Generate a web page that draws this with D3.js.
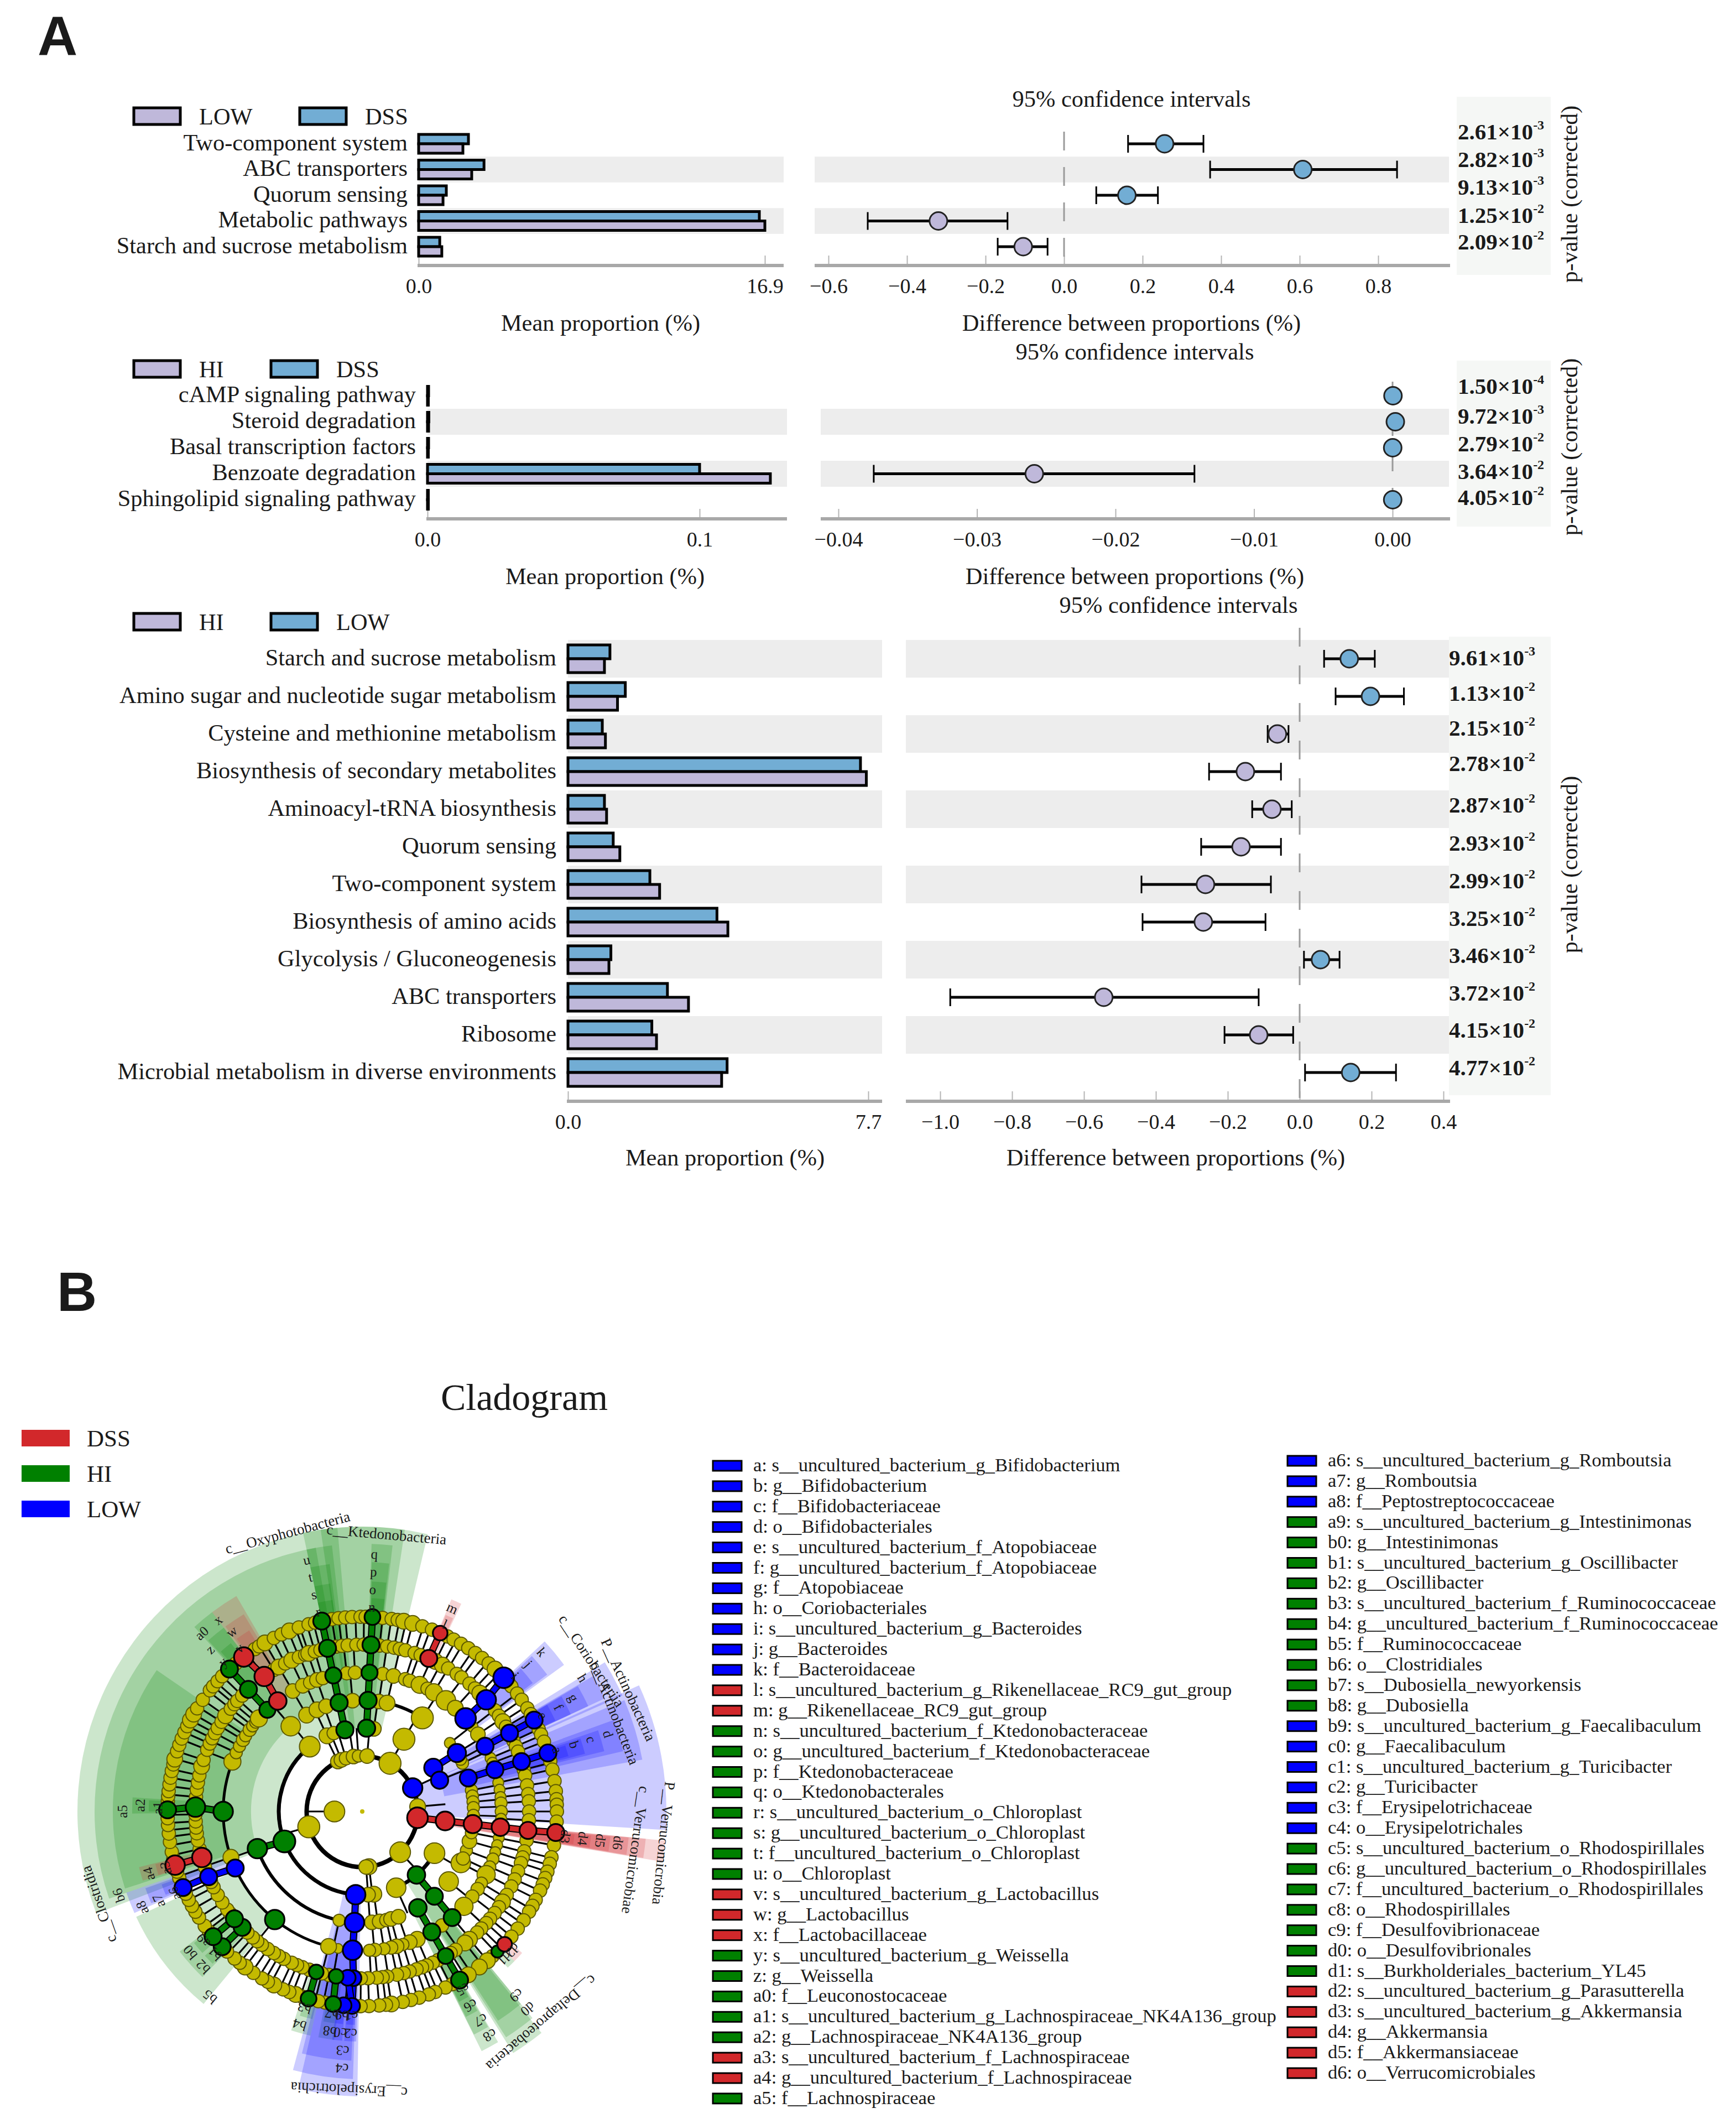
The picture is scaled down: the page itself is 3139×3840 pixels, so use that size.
<!DOCTYPE html>
<html><head><meta charset="utf-8">
<style>html,body{margin:0;padding:0;background:#fff}svg{display:block}text{font-family:"Liberation Serif",serif;fill:#1a1a1a}</style>
<script src="https://cdn.jsdelivr.net/npm/d3@7/dist/d3.min.js"></script>
</head><body><svg id="c" width="3139" height="3840" viewBox="0 0 3139 3840"></svg>
<script>
// ---------- Panel A data ----------
const p1Groups = ["LOW","DSS"];
const p1Names = ["Two-component system","ABC transporters","Quorum sensing","Metabolic pathways","Starch and sucrose metabolism"];
const p1Blue = [2.43,3.19,1.35,16.63,1.03];
const p1Lav = [2.16,2.59,1.19,16.9,1.13];
const p1Diff = [0.256,0.608,0.16,-0.32,-0.104];
const p1Lo = [0.163,0.372,0.082,-0.50,-0.169];
const p1Hi = [0.355,0.848,0.239,-0.144,-0.042];
const p1Mant = ["2.61","2.82","9.13","1.25","2.09"];
const p1Exp = ["-3","-3","-3","-2","-2"];
const p1BarTicks = [0,16.9];
const p1DiffTicks = [-0.6,-0.4,-0.2,0,0.2,0.4,0.6,0.8];

const p2Groups = ["HI","DSS"];
const p2Names = ["cAMP signaling pathway","Steroid degradation","Basal transcription factors","Benzoate degradation","Sphingolipid signaling pathway"];
const p2Blue = [0.0004,0.0005,0.0004,0.1,0.0003];
const p2Lav = [0.0003,0.0004,0.0003,0.126,0.0003];
const p2Diff = [0.00003,0.0002,0.00001,-0.02586,0.00001];
const p2Lo = [0,0.0001,0,-0.03745,0];
const p2Hi = [0.0001,0.0003,0.0001,-0.0143,0.0001];
const p2Mant = ["1.50","9.72","2.79","3.64","4.05"];
const p2Exp = ["-4","-3","-2","-2","-2"];
const p2BarTicks = [0,0.1];
const p2DiffTicks = [-0.04,-0.03,-0.02,-0.01,0];

const p3Groups = ["HI","LOW"];
const p3Names = ["Starch and sucrose metabolism","Amino sugar and nucleotide sugar metabolism","Cysteine and methionine metabolism","Biosynthesis of secondary metabolites","Aminoacyl-tRNA biosynthesis","Quorum sensing","Two-component system","Biosynthesis of amino acids","Glycolysis / Gluconeogenesis","ABC transporters","Ribosome","Microbial metabolism in diverse environments"];
const p3Blue = [1.076,1.47,0.88,7.5,0.935,1.16,2.1,3.82,1.1,2.55,2.15,4.08];
const p3Lav = [0.935,1.27,0.96,7.65,0.99,1.33,2.35,4.1,1.05,3.09,2.27,3.94];
const p3Diff = [0.138,0.197,-0.062,-0.151,-0.077,-0.163,-0.262,-0.268,0.058,-0.545,-0.114,0.142];
const p3Lo = [0.068,0.10,-0.089,-0.252,-0.132,-0.274,-0.44,-0.437,0.012,-0.972,-0.209,0.015];
const p3Hi = [0.209,0.29,-0.031,-0.052,-0.022,-0.052,-0.08,-0.095,0.111,-0.114,-0.018,0.268];
const p3Mant = ["9.61","1.13","2.15","2.78","2.87","2.93","2.99","3.25","3.46","3.72","4.15","4.77"];
const p3Exp = ["-3","-2","-2","-2","-2","-2","-2","-2","-2","-2","-2","-2"];
const p3BarTicks = [0,7.7];
const p3DiffTicks = [-1,-0.8,-0.6,-0.4,-0.2,0,0.2,0.4];

// ---------- Panel B data: angle in degrees clockwise from 12 o'clock, abundance in arbitrary units ----------
const classNames = ["DSS","HI","LOW"];
const ring1 = [[270,72]];
const ring2 = [[334,36],[338,36],[343,30],[351,36],[356,25],[5,36],[30,81],[85,42],[137,72],[173,42],[176,36],[254,81]];
const ring3 = [[120,72],[156,64],[321,72],[30,81],[335,42],[340,30],[8,36],[172,42],[176,36]];
const ring4 = [[320,64],[32.7,81],[330,42],[336,42],[341,36],[355,36],[8.6,36],[12.9,42],[117.6,64],[129,64],[110.5,25],[115,30],[105.5,36],[101,25],[192,25],[175,36],[171,36],[167.5,30],[165,36],[161,36],[52,20],[64.3,25],[62,25],[79,25],[82,25],[85,25],[88,25],[92,25]];
const ring5 = [[250.8,42],[291,49],[295,25],[298,25],[301,30],[303,25],[306,30],[308,25],[310,25],[312,49],[330,36],[334.7,36],[338,30],[341,36],[343.5,30],[353.6,30],[357,30],[8.5,30],[13,36],[18,30],[20,30],[24.4,49],[28,30],[31,49],[37,64],[42,42],[52.5,20],[56.3,36],[67.4,20],[69.5,20],[78,20],[81,20],[84,20],[86.5,25],[90,25],[93,20],[101,20],[104,20],[107,20],[110,25],[113.5,25],[117,56],[121,25],[123.9,30],[127.7,30],[133,56],[145,30],[156.7,42],[160,36],[163,25],[165.7,36],[168,30],[171,25],[174.8,30],[177,25],[190,16],[194,42]];
const ring6 = [275,277.5,280,282.5,285.7,288,291.7,294,296,298,300,302.5,305,308,310,311.5,314,328,330,332.5,335,337.7,340,341.3,343.5,345.5,351,353,355,358,0.5,6,8.6,11,13,15,18.3,20.5,26,28.7,31,34.5,36.5,40,42.5,44.8,52.7,55,57.4,59.5,65,67,69,75.5,77.5,81,84,86.5,90,93,100,103.8,106,108,111,114,116.7,120,122.8,125,127.5,130,132,134.5,136.5,140,142,146,148,153,155,157.3,159,161,163.5,165.6,168,171.4,173,175,178,180.5,191.5,194,198.5,201,203,205,208,210,212,214.5,217,219,221,223.5,232.5,234,237,240,243,245,250.5,257,260,262.5,264.5,266.6,269];
const ring7 = [273,274.5,276,278,280,282,284,285.6,288,290,292,294,296,298,300,302,305,308.5,310,312,314,319.5,326.5,328,330,333,335.5,338,341,344,346,351,353,355,357,359.5,1,6,8.7,10.5,12.3,15,18,21,26,28,30.5,33,35.5,38,40.5,43,49,50,52.7,55,58,60,65,66.7,69,75,77.6,81,84,86.4,88,90,93,100,103.6,105.6,108,110,112,114,117,119,121,124,127,130,138,140,143,147,152.5,154.7,158,160,163,165.5,168,171.4,173,175,178,180.5,191,193,198,200,202,204,207,209,211,214,217,219,221,224,232,234,237,239,241,243,245,250,252,256,258,261,263.5,266,268];
const ring6Large = [26,28.7,44.8,57.4,122.8,140,142,285.7,305,330,335,341.3];
const ring7Large = [285.6,298,330,338,12.3,15,43,140,143,147,171.4,200,207,217,300];
const marked = [ // level, angle, class, abundance
 [2,65,"LOW",64],[2,96.5,"DSS",72],
 [3,58.4,"LOW",56],[3,68,"LOW",50],[3,96.5,"DSS",60],[3,139.5,"HI",52],[3,184.5,"LOW",64],[3,249,"HI",81],[3,348,"HI",50],[3,3,"HI",50],
 [4,58.3,"LOW",56],[4,72.5,"LOW",49],[4,96.5,"DSS",56],[4,139.6,"HI",49],[4,150,"HI",52],[4,184,"LOW",64],[4,250.5,"HI",64],[4,348,"HI",50],[4,3,"HI",50],
 [5,48,"LOW",72],[5,62,"LOW",49],[5,72.5,"LOW",49],[5,96.5,"DSS",52],[5,139.7,"HI",49],[5,150,"HI",49],[5,184,"LOW",64],[5,219,"HI",64],[5,246,"LOW",49],[5,270,"HI",64],[5,317,"HI",44],[5,322.6,"DSS",52],[5,348,"HI",44],[5,3,"HI",44],
 [6,23.5,"DSS",49],[6,48,"LOW",64],[6,62,"LOW",49],[6,72.6,"LOW",49],[6,96.5,"DSS",49],[6,150,"HI",42],[6,183,"LOW",42],[6,185,"LOW",42],[6,189,"HI",36],[6,196,"HI",36],[6,226,"HI",49],[6,230,"HI",49],[6,247,"LOW",49],[6,254,"DSS",64],[6,271.5,"HI",64],[6,317,"HI",49],[6,324,"DSS",64],[6,348,"HI",49],[6,3,"HI",49],
 [7,23.6,"DSS",36],[7,46.6,"LOW",72],[7,62,"LOW",49],[7,72.5,"LOW",49],[7,96.2,"DSS",49],[7,136,"HI",25],[7,133,"DSS",36],[7,150,"HI",49],[7,183,"LOW",42],[7,185.5,"LOW",42],[7,188.6,"HI",42],[7,196,"HI",42],[7,226,"HI",49],[7,230,"HI",49],[7,247,"LOW",49],[7,254,"DSS",64],[7,270.5,"HI",49],[7,317,"HI",49],[7,322.5,"DSS",64],[7,348,"HI",49],[7,3,"HI",42]
];
const arcSpans = [[3,184.5,321],[3,120,156],[4,192,250.5],[4,8.6,32.7],[5,190,291]];
const wedges = [ // level, from, to, class
 [3,249,351.6,"HI"],[4,251,350,"HI"],[5,252,304.5,"HI"],[5,219.5,245,"HI"],[6,269.5,273.5,"HI"],[7,270,273,"HI"],
 [3,348,355,"HI"],[4,348,353.5,"HI"],[5,348,352.5,"HI"],[6,348,352,"HI"],[7,348,352,"HI"],
 [3,351.6,373.3,"HI"],[3,351.6,368.6,"HI"],[4,2,6.5,"HI"],[5,2.2,6.2,"HI"],[6,2.4,6,"HI"],[7,2.5,6,"HI"],
 [2,65.5,93.5,"LOW"],[3,67,79.5,"LOW"],[3,58.4,66,"LOW"],[4,70,77,"LOW"],[5,71,76,"LOW"],[6,71.5,75.5,"LOW"],[7,72,75,"LOW"],
 [4,59.6,65,"LOW"],[5,59.8,65,"LOW"],[6,60,65,"LOW"],[7,60,64.8,"LOW"],
 [5,47,54,"LOW"],[6,47.5,53.5,"LOW"],[7,48,53,"LOW"],
 [2,95.5,99.5,"DSS"],[3,95.5,99.4,"DSS"],[4,95.6,99.3,"DSS"],[5,95.8,99.2,"DSS"],[6,96,99,"DSS"],[7,96.2,98.8,"DSS"],
 [6,22.8,25.5,"DSS"],[7,23,25.2,"DSS"],
 [5,323,329.7,"DSS"],[6,323.5,329,"DSS"],[7,324,328,"DSS"],
 [5,317.7,323,"HI"],[6,318,323,"HI"],[7,318.5,322,"HI"],
 [6,252.5,256,"DSS"],[7,252.7,255.7,"DSS"],
 [5,246,251,"LOW"],[6,246.5,250.5,"LOW"],[7,247,250,"LOW"],
 [6,228,232.5,"HI"],[7,228.5,232,"HI"],[6,224,228,"HI"],[7,224.5,227.5,"HI"],[6,193,198,"HI"],[7,193.5,197,"HI"],
 [6,187,191,"HI"],[7,187.5,190.5,"HI"],
 [3,181,193,"LOW"],[4,182,195,"LOW"],[5,182.5,194,"LOW"],[6,185,187.5,"LOW"],[7,185.2,187.3,"LOW"],[6,181.5,184.5,"LOW"],[7,182,184.3,"LOW"],
 [3,141,148,"HI"],[4,140.5,147.5,"HI"],[5,140.5,147,"HI"],
 [4,149.5,153.5,"HI"],[5,149.7,153.4,"HI"],[6,150,153.2,"HI"],[7,150.2,153,"HI"],
 [7,134.5,137,"HI"],[7,131.5,134.5,"DSS"]
];
const cladeLabels = [ // key, level, angle, class
 ["a",7,72.5,"LOW"],["b",6,72.5,"LOW"],["c",5,72.5,"LOW"],["d",4,72.5,"LOW"],["e",7,62,"LOW"],["f",6,62,"LOW"],["g",5,61.7,"LOW"],["h",4,58.8,"LOW"],
 ["i",7,48.4,"LOW"],["j",6,48.4,"LOW"],["k",5,48.4,"LOW"],["l",7,23.8,"DSS"],["m",6,23.9,"DSS"],
 ["n",7,2.7,"HI"],["o",6,2.7,"HI"],["p",5,2.7,"HI"],["q",4,2.7,"HI"],["r",7,347.5,"HI"],["s",6,347.4,"HI"],["t",5,347.5,"HI"],["u",4,347.5,"HI"],
 ["v",7,323,"DSS"],["w",6,324,"DSS"],["x",5,323,"DSS"],["y",7,317,"HI"],["z",6,316.8,"HI"],["a0",5,318,"HI"],
 ["a1",7,271,"HI"],["a2",6,271.6,"HI"],["a3",7,254,"DSS"],["a4",6,253.7,"DSS"],["a5",5,270,"HI"],
 ["a6",7,246.4,"LOW"],["a7",6,246.3,"LOW"],["a8",5,246.4,"LOW"],["a9",7,231,"HI"],["b0",6,230.7,"HI"],["b1",7,226,"HI"],["b2",6,225.7,"HI"],
 ["b3",7,196.4,"HI"],["b4",6,196.4,"HI"],["b5",5,219.4,"HI"],["b6",4,251,"HI"],["b7",7,188.5,"HI"],["b8",6,188.4,"HI"],
 ["b9",7,185.7,"LOW"],["c0",6,185.7,"LOW"],["c1",7,183,"LOW"],["c2",6,183,"LOW"],["c3",5,184.7,"LOW"],["c4",4,184.5,"LOW"],
 ["c5",7,150.5,"HI"],["c6",6,150.8,"HI"],["c7",5,150.4,"HI"],["c8",4,150.3,"HI"],["c9",5,140,"HI"],["d0",4,140,"HI"],
 ["d1",7,135.9,"HI"],["d2",7,132.7,"DSS"],["d3",7,97,"DSS"],["d4",6,97,"DSS"],["d5",5,97,"DSS"],["d6",4,97,"DSS"]
];
const taxaLabels = [ // text, radius value, angle, class
 ["P__Actinobacteria",529,65.4,"LOW"],["c__Coriobacteriia",496,56.7,"LOW"],["c__Actinobacteria",490,68.7,"LOW"],
 ["P__Verrucomicrobia",548,96,"DSS"],["c__Verrucomicrobiae",499,98,"DSS"],
 ["c__Oxyphotobacteria",522,345,"HI"],["c__Ktedonobacteria",503,5,"HI"],["c__Clostridia",505,250.6,"HI"],
 ["c__Erysipelotrichia",504,182.7,"LOW"],["c__Deltaproteobacteria",501,139.7,"HI"]
];
const legendClasses = ["DSS","HI","LOW"];
const keyCol1 = ["a","b","c","d","e","f","g","h","i","j","k","l","m","n","o","p","q","r","s","t","u","v","w","x","y","z","a0","a1","a2","a3","a4","a5"];
const taxaCol1 = ["s__uncultured_bacterium_g_Bifidobacterium","g__Bifidobacterium","f__Bifidobacteriaceae","o__Bifidobacteriales","s__uncultured_bacterium_f_Atopobiaceae","g__uncultured_bacterium_f_Atopobiaceae","f__Atopobiaceae","o__Coriobacteriales","s__uncultured_bacterium_g_Bacteroides","g__Bacteroides","f__Bacteroidaceae","s__uncultured_bacterium_g_Rikenellaceae_RC9_gut_group","g__Rikenellaceae_RC9_gut_group","s__uncultured_bacterium_f_Ktedonobacteraceae","g__uncultured_bacterium_f_Ktedonobacteraceae","f__Ktedonobacteraceae","o__Ktedonobacterales","s__uncultured_bacterium_o_Chloroplast","g__uncultured_bacterium_o_Chloroplast","f__uncultured_bacterium_o_Chloroplast","o__Chloroplast","s__uncultured_bacterium_g_Lactobacillus","g__Lactobacillus","f__Lactobacillaceae","s__uncultured_bacterium_g_Weissella","g__Weissella","f__Leuconostocaceae","s__uncultured_bacterium_g_Lachnospiraceae_NK4A136_group","g__Lachnospiraceae_NK4A136_group","s__uncultured_bacterium_f_Lachnospiraceae","g__uncultured_bacterium_f_Lachnospiraceae","f__Lachnospiraceae"];
const groupCol1 = ["LOW","LOW","LOW","LOW","LOW","LOW","LOW","LOW","LOW","LOW","LOW","DSS","DSS","HI","HI","HI","HI","HI","HI","HI","HI","DSS","DSS","DSS","HI","HI","HI","HI","HI","DSS","DSS","HI"];
const keyCol2 = ["a6","a7","a8","a9","b0","b1","b2","b3","b4","b5","b6","b7","b8","b9","c0","c1","c2","c3","c4","c5","c6","c7","c8","c9","d0","d1","d2","d3","d4","d5","d6"];
const taxaCol2 = ["s__uncultured_bacterium_g_Romboutsia","g__Romboutsia","f__Peptostreptococcaceae","s__uncultured_bacterium_g_Intestinimonas","g__Intestinimonas","s__uncultured_bacterium_g_Oscillibacter","g__Oscillibacter","s__uncultured_bacterium_f_Ruminococcaceae","g__uncultured_bacterium_f_Ruminococcaceae","f__Ruminococcaceae","o__Clostridiales","s__Dubosiella_newyorkensis","g__Dubosiella","s__uncultured_bacterium_g_Faecalibaculum","g__Faecalibaculum","s__uncultured_bacterium_g_Turicibacter","g__Turicibacter","f__Erysipelotrichaceae","o__Erysipelotrichales","s__uncultured_bacterium_o_Rhodospirillales","g__uncultured_bacterium_o_Rhodospirillales","f__uncultured_bacterium_o_Rhodospirillales","o__Rhodospirillales","f__Desulfovibrionaceae","o__Desulfovibrionales","s__Burkholderiales_bacterium_YL45","s__uncultured_bacterium_g_Parasutterella","s__uncultured_bacterium_g_Akkermansia","g__Akkermansia","f__Akkermansiaceae","o__Verrucomicrobiales"];
const groupCol2 = ["LOW","LOW","LOW","HI","HI","HI","HI","HI","HI","HI","HI","HI","HI","LOW","LOW","LOW","LOW","LOW","LOW","HI","HI","HI","HI","HI","HI","HI","DSS","DSS","DSS","DSS","DSS"];

// ---------- Drawing ----------
const svg = d3.select("#c");
svg.append("rect").attr("width",3139).attr("height",3840).attr("fill","#fff");
const BLUE="#72add4", LAV="#bfb8da", BAND="#ededed", PBG="#f5f7f5", GREY="#a8a8a8";
const FS=42.4;

function panel(o){
  const g=svg.append("g");
  const rows=d3.range(o.names.length);
  const y=i=>o.y0+i*o.step;
  g.append("rect").attr("x",o.pBg).attr("y",o.pTop).attr("width",2804-o.pBg).attr("height",o.pBot-o.pTop).attr("fill",PBG);
  rows.filter(i=>i%2===o.bandMod).forEach(i=>{
    g.append("rect").attr("x",o.barRange[0]).attr("y",y(i)-o.step/2).attr("width",o.barEnd-o.barRange[0]).attr("height",o.step).attr("fill",BAND);
    g.append("rect").attr("x",o.diffStart).attr("y",y(i)-o.step/2).attr("width",o.diffEnd-o.diffStart).attr("height",o.step).attr("fill",BAND);
  });
  const xb=d3.scaleLinear().domain(o.barDomain).range(o.barRange);
  const xd=d3.scaleLinear().domain(o.diffDomain).range(o.diffRange);
  const ax=(scale,ticks,fmt,a,b)=>{
    const s=g.append("g").attr("transform",`translate(0,${o.axisY})`)
      .call(d3.axisBottom(scale).tickValues(ticks).tickFormat(fmt).tickSizeInner(-18).tickSizeOuter(0).tickPadding(23));
    s.select(".domain").remove();
    s.selectAll("line").attr("stroke","#b4b4b4").attr("stroke-width",2);
    s.selectAll("text").attr("font-size",o.tickFs).style("font-family","'Liberation Serif',serif").attr("fill","#1a1a1a");
    g.append("line").attr("x1",a).attr("x2",b).attr("y1",o.axisY).attr("y2",o.axisY).attr("stroke",GREY).attr("stroke-width",6);
  };
  ax(xb,o.barTicks,o.barFmt,o.barRange[0]-2,o.barEnd);
  ax(xd,o.diffTicks,o.diffFmt,o.diffStart,o.diffEnd+2);
  g.append("line").attr("x1",xd(0)).attr("x2",xd(0)).attr("y1",o.zeroTop).attr("y2",o.axisY-4).attr("stroke","#9a9a9a").attr("stroke-width",3).attr("stroke-dasharray",o.dash);
  g.selectAll("text.nm").data(o.names).enter().append("text").attr("x",o.nameX).attr("y",(d,i)=>y(i)-3).attr("text-anchor","end").attr("dominant-baseline","central").attr("font-size",FS).text(d=>d);
  const bh=o.barH;
  g.selectAll("rect.b").data(o.blue).enter().append("rect").attr("x",xb(0)).attr("y",(d,i)=>y(i)-bh).attr("width",d=>xb(d)-xb(0)).attr("height",bh).attr("fill",BLUE).attr("stroke","#000").attr("stroke-width",5);
  g.selectAll("rect.l").data(o.lav).enter().append("rect").attr("x",xb(0)).attr("y",(d,i)=>y(i)).attr("width",d=>xb(d)-xb(0)).attr("height",bh).attr("fill",LAV).attr("stroke","#000").attr("stroke-width",5);
  rows.forEach(i=>{
    const yy=y(i);
    if(o.hi[i]-o.lo[i]>o.minCI){
      g.append("line").attr("x1",xd(o.lo[i])).attr("x2",xd(o.hi[i])).attr("y1",yy).attr("y2",yy).attr("stroke","#000").attr("stroke-width",5);
      [o.lo[i],o.hi[i]].forEach(v=>g.append("line").attr("x1",xd(v)).attr("x2",xd(v)).attr("y1",yy-16).attr("y2",yy+16).attr("stroke","#000").attr("stroke-width",3));
    }
    g.append("circle").attr("cx",xd(o.diff[i])).attr("cy",yy).attr("r",16).attr("fill",o.diff[i]>=-0.00001?BLUE:LAV).attr("stroke","#222").attr("stroke-width",3);
    const t=g.append("text").attr("x",o.pX).attr("y",o.pY[i]).attr("dominant-baseline","central").attr("font-size",41).attr("font-weight","bold");
    t.append("tspan").text(o.mant[i]+"×10");
    t.append("tspan").attr("font-size",24).attr("dy",-12).text(o.exp[i]);
  });
  const leg=[[o.groups[0],240,360],[o.groups[1],o.legX2,o.legX2+120]];
  leg.forEach((l,k)=>{
    g.append("rect").attr("x",l[1]+2).attr("y",o.legY-15).attr("width",84).attr("height",30).attr("fill",k?BLUE:LAV).attr("stroke","#000").attr("stroke-width",5);
    g.append("text").attr("x",l[2]).attr("y",o.legY).attr("dominant-baseline","central").attr("font-size",FS).text(l[0]);
  });
  g.append("text").attr("x",o.ciX).attr("y",o.ciY-3).attr("text-anchor","middle").attr("dominant-baseline","central").attr("font-size",FS).text("95% confidence intervals");
  g.append("text").attr("x",o.mx).attr("y",o.axY-1).attr("text-anchor","middle").attr("dominant-baseline","central").attr("font-size",FS).text("Mean proportion (%)");
  g.append("text").attr("x",o.dx).attr("y",o.axY-1).attr("text-anchor","middle").attr("dominant-baseline","central").attr("font-size",FS).text("Difference between proportions (%)");
  g.append("text").attr("transform",`translate(2838,${o.pLabelY}) rotate(-90)`).attr("text-anchor","middle").attr("dominant-baseline","central").attr("font-size",42).text("p-value (corrected)");
}
const f1=d3.format(".1f"), f2=d3.format(".2f");
panel({names:p1Names,groups:p1Groups,blue:p1Blue,lav:p1Lav,diff:p1Diff,lo:p1Lo,hi:p1Hi,mant:p1Mant,exp:p1Exp,
 y0:260,step:46.5,bandMod:1,barH:17,axisY:480,barDomain:[0,16.9],barRange:[757,1383],barEnd:1417,diffDomain:[-0.6,0.8],diffRange:[1498,2492],diffStart:1473,diffEnd:2620,
 barTicks:p1BarTicks,diffTicks:p1DiffTicks,barFmt:f1,diffFmt:f1,tickFs:38,zeroTop:238,dash:"34 30",nameX:737,pBg:2634,pX:2636,pTop:175,pBot:497,pY:[238,288,338,389,437],minCI:0.0005,
 legY:210,legX2:540,ciX:2046,ciY:181,mx:1086,dx:2046,axY:584,pLabelY:351});
panel({names:p2Names,groups:p2Groups,blue:p2Blue,lav:p2Lav,diff:p2Diff,lo:p2Lo,hi:p2Hi,mant:p2Mant,exp:p2Exp,
 y0:715.5,step:47,bandMod:1,barH:17,axisY:938,barDomain:[0,0.1],barRange:[773,1265],barEnd:1423,diffDomain:[-0.04,0],diffRange:[1516,2518],diffStart:1484,diffEnd:2620,
 barTicks:p2BarTicks,diffTicks:p2DiffTicks,barFmt:f1,diffFmt:f2,tickFs:38,zeroTop:690,dash:"34 30",nameX:752,pBg:2634,pX:2636,pTop:652,pBot:952,pY:[698,752,802,852,899],minCI:0.0005,
 legY:667,legX2:488,ciX:2052,ciY:638,mx:1094,dx:2052,axY:1042,pLabelY:808});
panel({names:p3Names,groups:p3Groups,blue:p3Blue,lav:p3Lav,diff:p3Diff,lo:p3Lo,hi:p3Hi,mant:p3Mant,exp:p3Exp,
 y0:1191,step:68,bandMod:0,barH:25,axisY:1991,barDomain:[0,7.7],barRange:[1027,1570],barEnd:1595,diffDomain:[-1,0.4],diffRange:[1700,2610],diffStart:1638,diffEnd:2620,
 barTicks:p3BarTicks,diffTicks:p3DiffTicks,barFmt:f1,diffFmt:f1,tickFs:38,zeroTop:1135,dash:"34 34",nameX:1006,pBg:2620,pX:2620,pTop:1151,pBot:1980,pY:[1189,1253,1316,1380,1455,1524,1592,1660,1727,1795,1862,1930],minCI:0.0005,
 legY:1124,legX2:488,ciX:2131,ciY:1096,mx:1311,dx:2126,axY:2093,pLabelY:1563});

svg.append("text").attr("x",68).attr("y",100).attr("font-size",100).attr("font-weight","bold").style("font-family","'Liberation Sans',sans-serif").attr("fill","#231815").text("A");
svg.append("text").attr("x",103).attr("y",2370).attr("font-size",100).attr("font-weight","bold").style("font-family","'Liberation Sans',sans-serif").attr("fill","#231815").text("B");

// ---------- Cladogram ----------
const cx=655, cy=3275;
const clade=svg.append("g").attr("transform",`translate(${cx},${cy})`);
const color=d3.scaleOrdinal().domain(classNames).range(["#d2282b","#008000","#0000ff"]);
const labelColor=d3.scaleOrdinal().domain(classNames).range(["#8b0000","#006400","#00008b"]);
const ringR=d3.scaleLinear().domain([0,7]).range([0,352]);
const wedgeOuter=d3.scaleOrdinal().domain([2,3,4,5,6,7]).range([550,515,484,451,416,386]);
const labelR=d3.scaleOrdinal().domain([4,5,6,7]).range([466,434,402,370]);
const sizeR=d3.scaleSqrt().domain([0,100]).range([0,22]);
const rad=d=>d*Math.PI/180;
const polar=(lvl,a)=>{const r=ringR(lvl);return [r*Math.sin(rad(a)),-r*Math.cos(rad(a))];};
const arc=d3.arc();
clade.selectAll("path.w").data(wedges).enter().append("path")
 .attr("d",d=>arc({innerRadius:ringR(d[0]),outerRadius:wedgeOuter(d[0]),startAngle:rad(d[1]),endAngle:rad(d[2])}))
 .attr("fill",d=>color(d[3])).attr("fill-opacity",0.2);
const nodes=[];
[[1,ring1],[2,ring2],[3,ring3],[4,ring4],[5,ring5]].forEach(([l,a])=>a.forEach(n=>nodes.push({level:l,angle:n[0],abd:n[1],cls:null})));
ring6.forEach(a=>nodes.push({level:6,angle:a,abd:ring6Large.includes(a)?42:30,cls:null}));
ring7.forEach(a=>nodes.push({level:7,angle:a,abd:ring7Large.includes(a)?42:30,cls:null}));
marked.forEach(m=>nodes.push({level:m[0],angle:m[1],abd:m[3],cls:m[2]}));
const thick=d3.scaleOrdinal().domain([2,3,4,5]).range([8,7,6,5]);
clade.append("circle").attr("r",ringR(2)).attr("fill","none").attr("stroke","#000").attr("stroke-width",thick(2));
arcSpans.forEach(s=>{
  clade.append("path").attr("d",arc({innerRadius:ringR(s[0]),outerRadius:ringR(s[0]),startAngle:rad(s[1]),endAngle:rad(s[2])}))
   .attr("fill","none").attr("stroke","#000").attr("stroke-width",thick(s[0]));
});
nodes.filter(n=>n.level<7).forEach(n=>{
  const a=polar(n.level,n.angle), b=polar(n.level+1,n.angle);
  clade.append("line").attr("x1",a[0]).attr("y1",a[1]).attr("x2",b[0]).attr("y2",b[1]).attr("stroke","#000").attr("stroke-width",3.2);
});
const mk=nodes.filter(n=>n.cls);
mk.forEach(n=>{
  const ch=mk.find(c=>c.level===n.level+1&&c.cls===n.cls&&Math.abs(c.angle-n.angle)<3);
  if(!ch) return;
  const a=polar(n.level,n.angle), b=polar(ch.level,ch.angle);
  clade.append("line").attr("x1",a[0]).attr("y1",a[1]).attr("x2",b[0]).attr("y2",b[1]).attr("stroke","#000").attr("stroke-width",13);
  clade.append("line").attr("x1",a[0]).attr("y1",a[1]).attr("x2",b[0]).attr("y2",b[1]).attr("stroke",color(n.cls)).attr("stroke-width",9);
});
clade.append("circle").attr("r",4).attr("fill","#c4ba00");
nodes.forEach(n=>{
  const p=polar(n.level,n.angle);
  clade.append("circle").attr("cx",p[0]).attr("cy",p[1]).attr("r",sizeR(n.abd))
   .attr("fill",n.cls?color(n.cls):"#c4ba00").attr("stroke",n.cls?"#000":"#5e5a00").attr("stroke-width",n.cls?3.2:2);
});
const tangent=(sel,r,a)=>sel.attr("transform",`rotate(${a}) translate(0,${-r})`);
cladeLabels.forEach(l=>{
  tangent(clade.append("text"),labelR(l[1]),l[2]).attr("text-anchor","middle").attr("dominant-baseline","central").attr("font-size",25).attr("fill",labelColor(l[3])).text(l[0]);
});
taxaLabels.forEach(l=>{
  tangent(clade.append("text"),l[1],l[2]).attr("text-anchor","middle").attr("dominant-baseline","central").attr("font-size",27).attr("fill",labelColor(l[3])).text(l[0]);
});
svg.append("text").attr("x",948).attr("y",2526).attr("text-anchor","middle").attr("dominant-baseline","central").attr("font-size",68).text("Cladogram");
legendClasses.forEach((c,i)=>{
  const yy=2600+i*64;
  svg.append("rect").attr("x",39).attr("y",yy-15).attr("width",87).attr("height",30).attr("fill",color(c));
  svg.append("text").attr("x",157).attr("y",yy).attr("dominant-baseline","central").attr("font-size",43).text(c);
});
function col(keys,taxa,grp,sx,tx,y0){
  keys.forEach((k,i)=>{
    const yy=y0+i*36.9;
    svg.append("rect").attr("x",sx).attr("y",yy-9).attr("width",52).attr("height",18).attr("fill",color(grp[i])).attr("stroke","#000").attr("stroke-width",3);
    svg.append("text").attr("x",tx).attr("y",yy-2).attr("dominant-baseline","central").attr("font-size",34.6).text(k+": "+taxa[i]);
  });
}
col(keyCol1,taxaCol1,groupCol1,1289,1362,2650);
col(keyCol2,taxaCol2,groupCol2,2328,2401,2641);
</script></body></html>
